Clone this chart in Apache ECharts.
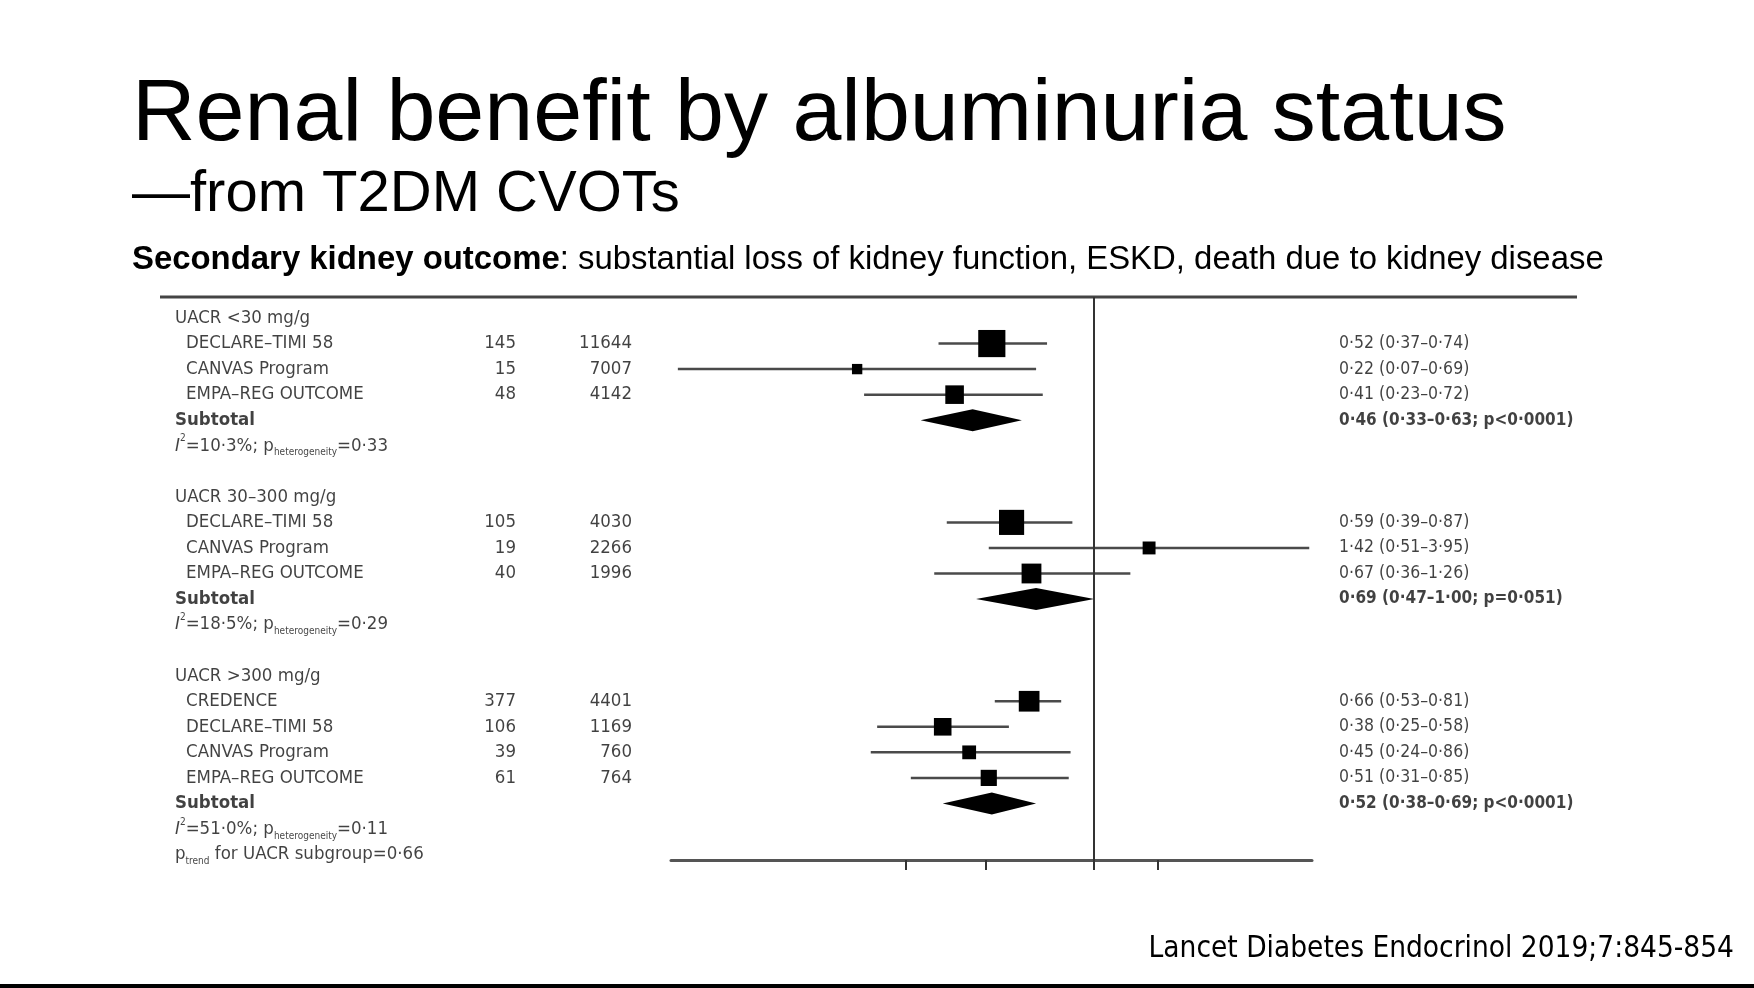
<!DOCTYPE html>
<html>
<head>
<meta charset="utf-8">
<title>Renal benefit by albuminuria status</title>
<script src="https://cdn.jsdelivr.net/npm/echarts@6.0.0/dist/echarts.min.js"></script>
<style>
	html, body { margin: 0; padding: 0; background: #fff; }
	#main { width: 1754px; height: 988px; }
</style>
</head>
<body>
<div id="main"></div>
<script>
// ---- data ----
const groups = ['UACR <30 mg/g', 'UACR 30–300 mg/g', 'UACR >300 mg/g'];
const studies = ['DECLARE–TIMI 58', 'CANVAS Program', 'EMPA–REG OUTCOME',
	'DECLARE–TIMI 58', 'CANVAS Program', 'EMPA–REG OUTCOME',
	'CREDENCE', 'DECLARE–TIMI 58', 'CANVAS Program', 'EMPA–REG OUTCOME'];
const studyGroup = [0, 0, 0, 1, 1, 1, 2, 2, 2, 2];
const events = [145, 15, 48, 105, 19, 40, 377, 106, 39, 61];
const participants = [11644, 7007, 4142, 4030, 2266, 1996, 4401, 1169, 760, 764];
const hr = [0.52, 0.22, 0.41, 0.59, 1.42, 0.67, 0.66, 0.38, 0.45, 0.51];
const lo = [0.37, 0.07, 0.23, 0.39, 0.51, 0.36, 0.53, 0.25, 0.24, 0.31];
const hi = [0.74, 0.69, 0.72, 0.87, 3.95, 1.26, 0.81, 0.58, 0.86, 0.85];
const weights = [62, 9, 29, 53, 14, 33, 36, 26, 16, 22];   // % within subgroup

const subHr = [0.46, 0.69, 0.52];
const subLo = [0.33, 0.47, 0.38];
const subHi = [0.63, 1.00, 0.69];
const subP = ['p<0·0001', 'p=0·051', 'p<0·0001'];
const i2 = [10.3, 18.5, 51.0];
const pHet = [0.33, 0.29, 0.11];
const pTrend = 0.66;

const xTicks = [0.3, 0.5, 1, 1.5];
const xRange = [0.067, 4.02];

// ---- layout ----
const W = 1754;
const row0 = 318, rowPitch = 25.55;
const plotTop = 297, plotBottom = 860;
const plotLeft = 671, plotRight = 1312;
const colHead = 175, colStudy = 186, colEvents = 516, colN = 632, colRight = 1339;
const boxScale = 3.45;
const diamondHalf = 11;

const FONT = "'Liberation Sans', Arial, sans-serif";
const FONT_TAB = "'DejaVu Sans Condensed', 'Liberation Sans Narrow', 'Noto Sans', sans-serif";
const TAB_SIZE = 18.5;
const INK = '#111';

// 0·52 style decimals
function fmt(v, d) {
	return v.toFixed(d).replace('.', '·');
}
const L = Math.log;

// walk the groups to give every text line its row
let rows = [];
let studyRow = [], subRow = [];
let r = 0;
groups.forEach(function (g, gi) {
	rows.push({ row: r++, kind: 'head', text: g });
	studies.forEach(function (s, si) {
		if (studyGroup[si] === gi) {
			studyRow[si] = r;
			rows.push({ row: r++, kind: 'study', text: s });
		}
	});
	subRow[gi] = r;
	rows.push({ row: r++, kind: 'sub', text: 'Subtotal' });
	rows.push({ row: r++, kind: 'het', text: '{it|I}{sup|2}=' + fmt(i2[gi], 1) + '%; p{sub|heterogeneity}=' + fmt(pHet[gi], 2) });
	if (gi < groups.length - 1) r++;   // blank line between subgroups
});
rows.push({ row: r++, kind: 'het', text: 'p{sub|trend} for UACR subgroup=' + fmt(pTrend, 2) });

const yMin = (plotTop - row0) / rowPitch;
const yMax = (plotBottom - row0) / rowPitch;

const tabRich = {
	it: { fontFamily: FONT_TAB, fontSize: TAB_SIZE, fontStyle: 'italic', color: INK },
	sup: { fontFamily: FONT_TAB, fontSize: 10, lineHeight: 16, verticalAlign: 'top', color: INK },
	sub: { fontFamily: FONT_TAB, fontSize: 10, lineHeight: 12, verticalAlign: 'bottom', color: INK }
};

function textSeries(name, data, position, size) {
	return {
		name: name,
		type: 'scatter',
		xAxisIndex: 1,
		yAxisIndex: 1,
		symbolSize: 0,
		silent: true,
		data: data,
		label: {
			show: true,
			position: position,
			distance: 0,
			fontFamily: FONT_TAB,
			fontSize: size || TAB_SIZE,
			lineHeight: 24,
			color: INK,
			formatter: function (p) { return p.data.text; },
			rich: tabRich
		}
	};
}

const leftData = rows.map(function (o) {
	const item = { value: [o.kind === 'study' ? colStudy : colHead, o.row], text: o.text };
	if (o.kind === 'sub') item.label = { fontWeight: 'bold' };
	return item;
});
const eventData = events.map(function (v, i) { return { value: [colEvents, studyRow[i]], text: String(v) }; });
const nData = participants.map(function (v, i) { return { value: [colN, studyRow[i]], text: String(v) }; });
const rightData = hr.map(function (v, i) {
	return { value: [colRight, studyRow[i]], text: fmt(v, 2) + ' (' + fmt(lo[i], 2) + '–' + fmt(hi[i], 2) + ')' };
}).concat(subHr.map(function (v, gi) {
	return {
		value: [colRight, subRow[gi]],
		text: fmt(v, 2) + ' (' + fmt(subLo[gi], 2) + '–' + fmt(subHi[gi], 2) + '; ' + subP[gi] + ')',
		label: { fontWeight: 'bold', fontSize: 17 }
	};
}));

const ciData = hr.map(function (v, i) { return [L(lo[i]), L(hi[i]), studyRow[i]]; });
const boxData = hr.map(function (v, i) { return [L(v), studyRow[i], weights[i]]; });
const diamondData = subHr.map(function (v, gi) { return [L(subLo[gi]), L(v), L(subHi[gi]), subRow[gi]]; });

const option = {
	backgroundColor: '#fff',
	animation: false,
	title: [
		{
			text: 'Renal benefit by albuminuria status',
			left: 132, top: 72, padding: 0,
			textStyle: { fontFamily: FONT, fontSize: 88, lineHeight: 88, fontWeight: 'normal', color: '#000' }
		},
		{
			text: '—from T2DM CVOTs',
			left: 132, top: 166, padding: 0,
			textStyle: { fontFamily: FONT, fontSize: 58, lineHeight: 58, fontWeight: 'normal', color: '#000' }
		},
		{
			text: '{b|Secondary kidney outcome}: substantial loss of kidney function, ESKD, death due to kidney disease',
			left: 132, top: 243, padding: 0,
			textStyle: {
				fontFamily: FONT, fontSize: 32.9, lineHeight: 33, fontWeight: 'normal', color: '#000',
				rich: { b: { fontFamily: FONT, fontSize: 32.9, lineHeight: 33, fontWeight: 'bold', color: '#000' } }
			}
		},
		{
			text: 'Lancet Diabetes Endocrinol 2019;7:845-854',
			right: 20, top: 934, padding: 0,
			textStyle: { fontFamily: FONT_TAB, fontSize: 29.5, lineHeight: 30, fontWeight: 'normal', color: '#000' }
		}
	],
	grid: [
		{ left: plotLeft, right: W - plotRight, top: plotTop, bottom: 988 - plotBottom },
		{ left: 0, right: 0, top: plotTop, bottom: 988 - plotBottom }
	],
	xAxis: [
		{
			type: 'value',
			gridIndex: 0,
			position: 'bottom',
			min: L(xRange[0]),
			max: L(xRange[1]),
			axisLine: { show: true, onZero: false, lineStyle: { color: '#555', width: 3 } },
			axisTick: { show: true, customValues: xTicks.map(L), length: 10, lineStyle: { color: '#333', width: 2 } },
			axisLabel: { show: false },
			splitLine: { show: false }
		},
		{ type: 'value', gridIndex: 1, min: 0, max: W, show: false }
	],
	yAxis: [
		{ type: 'value', gridIndex: 0, inverse: true, min: yMin, max: yMax, show: false },
		{ type: 'value', gridIndex: 1, inverse: true, min: yMin, max: yMax, show: false }
	],
	series: [
		{
			name: 'ci',
			type: 'custom',
			xAxisIndex: 0,
			yAxisIndex: 0,
			z: 2,
			silent: true,
			data: ciData,
			encode: { x: [0, 1], y: 2 },
			renderItem: function (params, api) {
				const a = api.coord([api.value(0), api.value(2)]);
				const b = api.coord([api.value(1), api.value(2)]);
				return {
					type: 'line',
					shape: { x1: a[0], y1: a[1], x2: b[0], y2: b[1] },
					style: { stroke: '#4a4a4a', lineWidth: 2.5 }
				};
			},
			markLine: {
				silent: true,
				symbol: 'none',
				label: { show: false },
				lineStyle: { color: '#333', width: 2, type: 'solid' },
				data: [{ xAxis: 0 }]
			}
		},
		{
			name: 'estimate',
			type: 'scatter',
			xAxisIndex: 0,
			yAxisIndex: 0,
			z: 3,
			silent: true,
			symbol: 'rect',
			symbolSize: function (v) { return Math.sqrt(v[2]) * boxScale; },
			itemStyle: { color: '#000', opacity: 1 },
			data: boxData
		},
		{
			name: 'subtotal',
			type: 'custom',
			xAxisIndex: 0,
			yAxisIndex: 0,
			z: 3,
			silent: true,
			data: diamondData,
			encode: { x: [0, 1, 2], y: 3 },
			renderItem: function (params, api) {
				const y = api.value(3);
				const l = api.coord([api.value(0), y]);
				const c = api.coord([api.value(1), y]);
				const rr = api.coord([api.value(2), y]);
				return {
					type: 'polygon',
					shape: { points: [[l[0], l[1]], [c[0], c[1] - diamondHalf], [rr[0], rr[1]], [c[0], c[1] + diamondHalf]] },
					style: { fill: '#000' }
				};
			}
		},
		textSeries('labels', leftData, 'right'),
		textSeries('events', eventData, 'left'),
		textSeries('participants', nData, 'left'),
		textSeries('hr', rightData, 'right', 17.5)
	],
	graphic: [
		{
			type: 'line',
			silent: true,
			shape: { x1: 160, y1: plotTop, x2: 1577, y2: plotTop },
			style: { stroke: '#444', lineWidth: 3 }
		},
		{
			type: 'rect',
			silent: true,
			shape: { x: 0, y: 984, width: W, height: 4 },
			style: { fill: '#000' }
		}
	]
};

let myChart = echarts.init(document.getElementById('main'));
myChart.setOption(option);
window.addEventListener('resize', function () {
	myChart.resize();
});
</script>
</body>
</html>
